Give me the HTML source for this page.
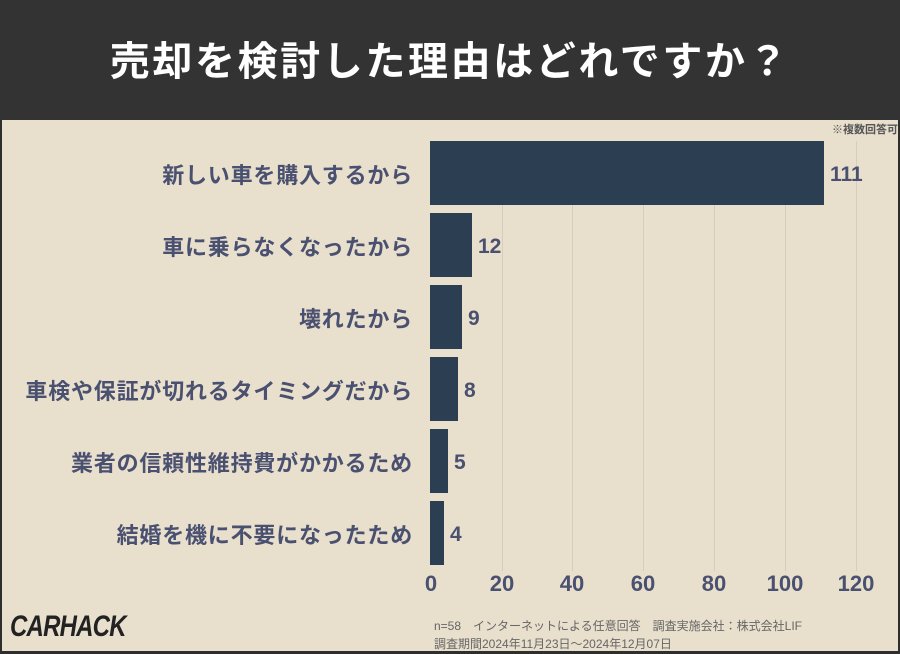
<!DOCTYPE html>
<html><head><meta charset="utf-8"><style>
body{margin:0;width:900px;height:654px;overflow:hidden;background:#2e2e2e;font-family:"Liberation Sans","Noto Sans CJK JP",sans-serif}
.hdr{position:absolute;left:0;top:0;width:900px;height:120px;background:#333;color:#fff;font-size:40px;font-weight:bold;text-align:center;line-height:124px;letter-spacing:2.6px}
.main{position:absolute;left:2px;top:120px;width:896px;height:531px;background:#e8dfcd}
.t{position:absolute;white-space:nowrap}
.lab{right:487px;font-size:22px;font-weight:bold;color:#4a5070;letter-spacing:0.8px;transform:translateY(-50%)}
.val{font-size:21px;font-weight:bold;color:#4a5070;transform:translateY(-50%)}
.bar{position:absolute;background:#2c3e52;height:64px}
.grid{position:absolute;top:141px;height:430px;width:1px;background:#d6cdbd}
.tick{position:absolute;top:571px;font-size:22px;font-weight:bold;color:#4a5070;transform:translateX(-50%)}
</style></head><body>
<div class="hdr">売却を検討した理由はどれですか？</div>
<div class="main"></div>
<div class="t" style="right:2px;top:121px;font-size:11px;font-weight:bold;color:#555">※複数回答可</div>
<div class="grid" style="left:502px"></div><div class="grid" style="left:572px"></div><div class="grid" style="left:643px"></div><div class="grid" style="left:714px"></div><div class="grid" style="left:785px"></div><div class="grid" style="left:856px"></div>
<div class="bar" style="left:430px;top:141px;width:394px"></div>
<div class="bar" style="left:430px;top:213px;width:42px"></div>
<div class="bar" style="left:430px;top:285px;width:32px"></div>
<div class="bar" style="left:430px;top:357px;width:28px"></div>
<div class="bar" style="left:430px;top:429px;width:18px"></div>
<div class="bar" style="left:430px;top:501px;width:14px"></div>
<div class="t lab" style="top:174px">新しい車を購入するから</div>
<div class="t lab" style="top:246px">車に乗らなくなったから</div>
<div class="t lab" style="top:318px">壊れたから</div>
<div class="t lab" style="top:390px">車検や保証が切れるタイミングだから</div>
<div class="t lab" style="top:462px">業者の信頼性維持費がかかるため</div>
<div class="t lab" style="top:534px">結婚を機に不要になったため</div>
<div class="t val" style="left:830px;top:175px">111</div>
<div class="t val" style="left:478px;top:247px">12</div>
<div class="t val" style="left:468px;top:319px">9</div>
<div class="t val" style="left:464px;top:391px">8</div>
<div class="t val" style="left:454px;top:463px">5</div>
<div class="t val" style="left:450px;top:535px">4</div>
<div class="tick" style="left:431px">0</div><div class="tick" style="left:502px">20</div><div class="tick" style="left:572px">40</div><div class="tick" style="left:643px">60</div><div class="tick" style="left:714px">80</div><div class="tick" style="left:785px">100</div><div class="tick" style="left:856px">120</div>
<div class="t" style="left:434px;top:617px;font-size:12px;color:#666;line-height:18px">n=58　インターネットによる任意回答　調査実施会社：株式会社LIF<br>調査期間2024年11月23日～2024年12月07日</div>
<div class="t" style="left:10px;top:610px;font-size:30px;font-weight:bold;font-style:italic;color:#222;letter-spacing:-1px;transform:scaleX(0.8);transform-origin:left">CARHACK</div>
</body></html>
